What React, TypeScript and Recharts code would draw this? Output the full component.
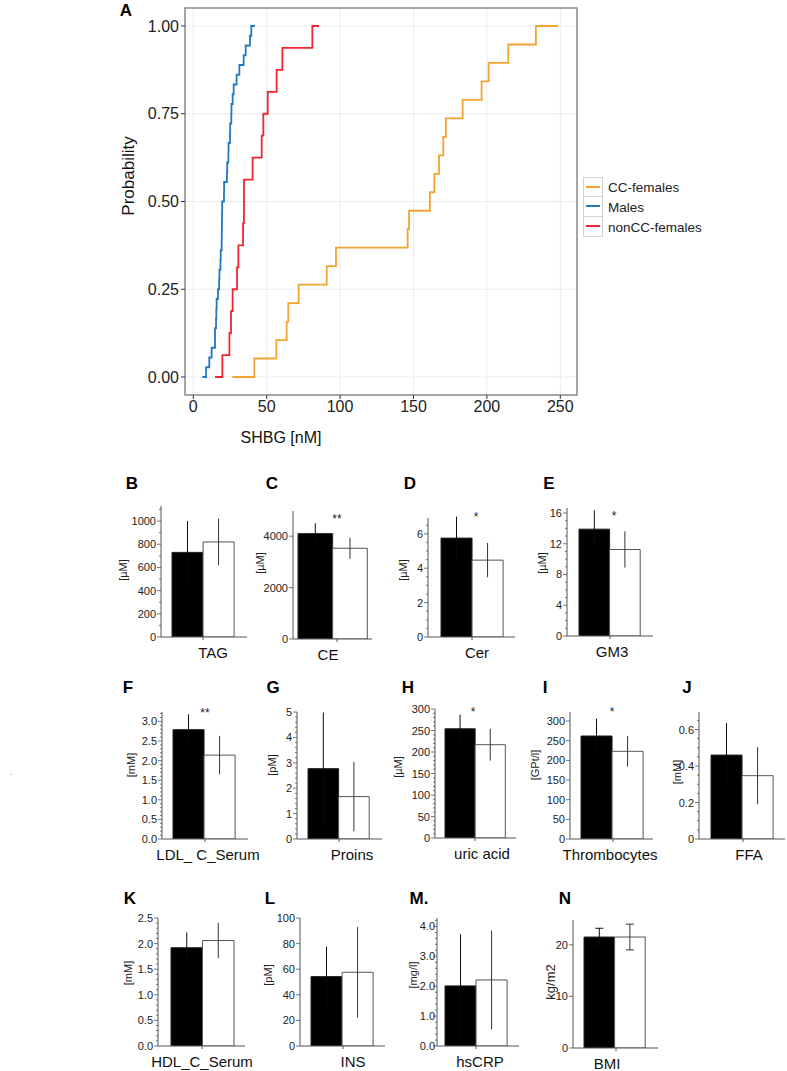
import React from 'react'
import { LineChart, Line, XAxis, YAxis, CartesianGrid, ReferenceArea, BarChart, Bar, ErrorBar } from 'recharts'

const font = '"Liberation Sans", Arial, Helvetica, sans-serif'

// ---- panel A: SHBG per subject, one value per step of each cumulative curve
const groups = ['CC-females', 'Males', 'nonCC-females']
const groupColors = ['#f2a431', '#2179c2', '#f1262c']
const shbgCcFemales = [41.6, 56.6, 63.6, 64.7, 71.8, 90.9, 97.2, 146, 147, 161.2, 164.2, 167.4, 170.3, 172.1, 183.5, 196.4, 201.2, 214.6, 233.4]
const shbgMales = [8.7, 10.9, 12.5, 14.8, 14.8, 15.5, 15.7, 15.9, 16.8, 17.6, 17.8, 18.5, 18.7, 19.3, 19.4, 19.5, 19.6, 19.7, 20.9, 21.0, 22.9, 23.1, 23.9, 24.0, 25.0, 25.1, 25.9, 26.0, 26.8, 27.5, 29.5, 31.4, 34.3, 35.7, 38.6, 39.5]
const shbgNonCcFemales = [19.8, 24.6, 25.7, 26.8, 29.8, 30.7, 33.9, 34.5, 34.5, 40.4, 46.6, 47.7, 50.7, 56.8, 60.7, 81.1]
const curveStart = [26.6, 6.2, 14.8]
const curveEnd = [248.6, 42.0, 85.6]
const shbgTicks = [0, 50, 100, 150, 200, 250]
const probTicks = [0, 0.25, 0.5, 0.75, 1]

// ---- panels B-N: black vs white group, mean and SD
const letters = ['B', 'C', 'D', 'E', 'F', 'G', 'H', 'I', 'J', 'K', 'L', 'M.', 'N']
const measures = ['TAG', 'CE', 'Cer', 'GM3', 'LDL_ C_Serum', 'Proins', 'uric acid', 'Thrombocytes', 'FFA', 'HDL_C_Serum', 'INS', 'hsCRP', 'BMI']
const units = ['[µM]', '[µM]', '[µM]', '[µM]', '[mM]', '[pM]', '[µM]', '[GPt/l]', '[mM]', '[mM]', '[pM]', '[mg/l]', 'kg/m2']
const blackMeans = [730, 4100, 5.75, 13.9, 2.79, 2.77, 254, 262, 0.46, 1.92, 54.2, 2.01, 21.5]
const blackSd = [270, 400, 1.25, 2.45, 0.39, 2.21, 33, 44, 0.176, 0.3, 23.5, 1.73, 1.7]
const whiteMeans = [820, 3530, 4.47, 11.25, 2.14, 1.67, 217, 223, 0.347, 2.06, 57.6, 2.21, 21.5]
const whiteSd = [200, 410, 1.0, 2.35, 0.49, 1.37, 37, 39, 0.156, 0.345, 35.3, 1.65, 2.5]
const signif = ['', '**', '*', '*', '**', '', '*', '*', '', '', '', '', '']
const axisMax = [1130, 4980, 6.92, 16.65, 3.24, 5, 300, 323, 0.696, 2.5, 100, 4.28, 24.8]
const majorTicks = [
  [0, 200, 400, 600, 800, 1000],
  [0, 2000, 4000],
  [0, 2, 4, 6],
  [0, 4, 8, 12, 16],
  [0, 0.5, 1, 1.5, 2, 2.5, 3],
  [0, 1, 2, 3, 4, 5],
  [0, 50, 100, 150, 200, 250, 300],
  [0, 50, 100, 150, 200, 250, 300],
  [0, 0.2, 0.4, 0.6],
  [0, 0.5, 1, 1.5, 2, 2.5],
  [0, 20, 40, 60, 80, 100],
  [0, 1, 2, 3, 4],
  [0, 10, 20],
]
const tickDecimals = [-1, -1, -1, -1, 1, -1, -1, -1, -1, 1, -1, 1, -1]
const minorSteps = [100, 0, 0.5, 1, 0.1, 0.2, 10, 0, 0.05, 0.1, 0, 0.2, 0]

// page positions (px) of each small panel
const layouts = [
  { ax: 161, top: 506, zero: 637, right: 247, barL: 169, mid: 203, barR: 238, lx: 132, ly: 483, ux: 123, uy: 570, cdx: 10, sx: 203, sy: 517, tg: 5 },
  { ax: 293, top: 511, zero: 639, right: 372, barL: 294, mid: 337, barR: 371, lx: 272, ly: 483, ux: 260, uy: 563, cdx: -9, sx: 337, sy: 517, tg: 5 },
  { ax: 428, top: 518, zero: 637, right: 515, barL: 438, mid: 472, barR: 507, lx: 410, ly: 483, ux: 403, uy: 570, cdx: 5, sx: 476, sy: 515, tg: 5 },
  { ax: 567, top: 508, zero: 636, right: 653, barL: 576, mid: 610, barR: 644, lx: 549, ly: 483, ux: 542, uy: 563, cdx: 2, sx: 614, sy: 514, tg: 5 },
  { ax: 162, top: 712, zero: 839, right: 248, barL: 170, mid: 205, barR: 239, lx: 128, ly: 687, ux: 131, uy: 765, cdx: 3, sx: 205, sy: 711, tg: 5 },
  { ax: 297, top: 712, zero: 839, right: 382, barL: 305, mid: 339, barR: 373, lx: 273, ly: 687, ux: 272, uy: 765, cdx: 13, sx: 339, sy: 711, tg: 5 },
  { ax: 435, top: 709, zero: 838, right: 516, barL: 442, mid: 475, barR: 509, lx: 408, ly: 687, ux: 398, uy: 767, cdx: 7, sx: 473, sy: 710, tg: 5 },
  { ax: 570, top: 712, zero: 839, right: 653, barL: 578, mid: 613, barR: 647, lx: 545, ly: 687, ux: 535, uy: 765, cdx: -3, sx: 612, sy: 710, tg: 5 },
  { ax: 699, top: 712, zero: 839, right: 785, barL: 708, mid: 743, barR: 777, lx: 687, ly: 687, ux: 677, uy: 772, cdx: 6, sx: 743, sy: 710, tg: 5 },
  { ax: 158, top: 918, zero: 1046, right: 245, barL: 167, mid: 202, barR: 237, lx: 130, ly: 898, ux: 128, uy: 973, cdx: 0, sx: 202, sy: 915, tg: 5 },
  { ax: 300, top: 918, zero: 1046, right: 385, barL: 308, mid: 343, barR: 377, lx: 270, ly: 898, ux: 268, uy: 975, cdx: 10, sx: 343, sy: 915, tg: 5 },
  { ax: 437, top: 918, zero: 1046, right: 519, barL: 442, mid: 476, barR: 511, lx: 419, ly: 898, ux: 413, uy: 975, cdx: 4, sx: 476, sy: 915, tg: 2 },
  { ax: 573, top: 920, zero: 1048, right: 658, barL: 581, mid: 616, barR: 649, lx: 565, ly: 898, ux: 550, uy: 982, cdx: -9, sx: 616, sy: 915, tg: 5 },
]

function ecdf(values: number[], start: number, end: number) {
  const n = values.length
  const pts = [{ x: start, p: 0 }]
  values.forEach((v, i) => pts.push({ x: v, p: (i + 1) / n }))
  pts.push({ x: end, p: 1 })
  return pts
}

const curves = [
  ecdf(shbgCcFemales, curveStart[0], curveEnd[0]),
  ecdf(shbgMales, curveStart[1], curveEnd[1]),
  ecdf(shbgNonCcFemales, curveStart[2], curveEnd[2]),
]

const X_DOMAIN: [number, number] = [-5.65, 261.4]
const Y_DOMAIN: [number, number] = [-0.0513, 1.0513]

function EcdfPanel() {
  return (
    <div style={{ position: 'absolute', left: 0, top: 0 }}>
      <LineChart width={700} height={460} margin={{ top: 8, right: 123, bottom: 15, left: 125 }}>
        <CartesianGrid stroke="#ebebeb" strokeWidth={1} />
        <XAxis
          type="number"
          dataKey="x"
          domain={X_DOMAIN}
          ticks={shbgTicks}
          allowDataOverflow
          axisLine={false}
          tickSize={4}
          tickMargin={2}
          height={50}
          interval={0}
          tickLine={{ stroke: '#333' }}
          tick={{ fill: '#222', fontSize: 16, fontFamily: font }}
          label={{
            content: () => (
              <text x={281} y={437} textAnchor="middle" dominantBaseline="central" fontSize={16} fill="#111" fontFamily={font}>
                SHBG [nM]
              </text>
            ),
          }}
        />
        <YAxis
          type="number"
          domain={Y_DOMAIN}
          ticks={probTicks}
          allowDataOverflow
          axisLine={false}
          tickSize={4}
          tickMargin={2}
          width={60}
          interval={0}
          tickFormatter={(v: number) => v.toFixed(2)}
          tickLine={{ stroke: '#333' }}
          tick={{ fill: '#222', fontSize: 16, fontFamily: font }}
          label={{
            content: () => (
              <text x={128} y={176} transform="rotate(-90 128 176)" textAnchor="middle" dominantBaseline="central" fontSize={17} fill="#111" fontFamily={font}>
                Probability
              </text>
            ),
          }}
        />
        <ReferenceArea x1={X_DOMAIN[0]} x2={X_DOMAIN[1]} y1={Y_DOMAIN[0]} y2={Y_DOMAIN[1]} fill="none" fillOpacity={0} stroke="#8c8c8c" strokeWidth={1.5} />
        {curves.map((c, k) => (
          <Line
            key={groups[k]}
            data={c}
            dataKey="p"
            name={groups[k]}
            type="stepAfter"
            stroke={groupColors[k]}
            strokeWidth={1.8}
            dot={false}
            activeDot={false}
            isAnimationActive={false}
          />
        ))}
      </LineChart>
      <div style={{ position: 'absolute', left: 583, top: 177, fontFamily: font, fontSize: 13.5, color: '#222', whiteSpace: 'nowrap' }}>
        {groups.map((g, k) => (
          <div key={g} style={{ display: 'flex', alignItems: 'center', height: 20 }}>
            <div style={{ width: 20, height: 20, boxSizing: 'border-box', border: '1px solid #d3d3d3', borderTop: k === 0 ? '1px solid #d3d3d3' : 'none', position: 'relative', flex: 'none' }}>
              <div style={{ position: 'absolute', left: 2, right: 2, top: 8, height: 2, background: groupColors[k] }} />
            </div>
            <span style={{ marginLeft: 5 }}>{g}</span>
          </div>
        ))}
      </div>
    </div>
  )
}

function fmtTick(v: number, dec: number) {
  return dec < 0 ? String(v) : v.toFixed(dec)
}

function BarPanel({ i }: { i: number }) {
  const g = layouts[i]
  const YW = 60
  const MT = 12
  const XH = 30
  const MR = 50
  const plotW = g.right - g.ax
  const plotH = g.zero - g.top
  const width = YW + plotW + MR
  const height = MT + plotH + XH
  const blackW = g.mid - g.barL
  const whiteW = g.barR - g.mid
  const majors = majorTicks[i]
  const allTicks = [...majors]
  const step = minorSteps[i]
  if (step) {
    for (let k = 1; k * step < axisMax[i]; k++) {
      const v = Math.round(k * step * 1000) / 1000
      if (!majors.some((m) => Math.abs(m - v) < 1e-9)) allTicks.push(v)
    }
  }
  allTicks.sort((a, b) => a - b)
  const row = [{ name: measures[i], black: blackMeans[i], white: whiteMeans[i], blackErr: blackSd[i], whiteErr: whiteSd[i] }]
  const cx = g.ux - (g.ax - YW)
  const cy = g.uy - (g.top - MT)

  const yTick = (p: any) => {
    const v = p.payload.value
    const major = majors.some((m) => Math.abs(m - v) < 1e-9)
    return (
      <g>
        <line x1={p.x - (major ? 4 : 2)} x2={p.x} y1={p.y} y2={p.y} stroke="#555" strokeWidth={0.8} />
        {major && (
          <text x={p.x - g.tg} y={p.y} textAnchor="end" dominantBaseline="central" fontSize={11} fill="#222" fontFamily={font}>
            {fmtTick(v, tickDecimals[i])}
          </text>
        )}
      </g>
    )
  }
  const xTick = (p: any) => {
    const jx = p.x - (blackW + whiteW) / 2 + blackW
    return (
      <g>
        <line x1={jx} x2={jx} y1={p.y} y2={p.y + 3} stroke="#555" />
        <text x={jx + g.cdx} y={p.y + 15.5} textAnchor="middle" dominantBaseline="central" fontSize={15} fill="#111" fontFamily={font}>
          {p.payload.value}
        </text>
      </g>
    )
  }

  return (
    <div style={{ position: 'absolute', left: g.ax - YW, top: g.top - MT }}>
      <BarChart width={width} height={height} data={row} barGap={0} barCategoryGap={0} margin={{ top: MT, right: MR, left: 0, bottom: 0 }}>
        <XAxis
          dataKey="name"
          type="category"
          padding={{ left: g.barL - g.ax, right: g.right - g.barR }}
          height={XH}
          tickSize={0}
          tickMargin={0}
          tickLine={false}
          interval={0}
          axisLine={{ stroke: '#555' }}
          tick={xTick}
        />
        <YAxis
          type="number"
          domain={[0, axisMax[i]]}
          ticks={allTicks}
          allowDataOverflow
          width={YW}
          tickSize={0}
          tickMargin={0}
          tickLine={false}
          interval={0}
          axisLine={{ stroke: '#555' }}
          tick={yTick}
          label={{
            content: () => (
              <text x={cx} y={cy} transform={`rotate(-90 ${cx} ${cy})`} textAnchor="middle" dominantBaseline="central" fontSize={i === 12 ? 13 : 11} fill="#222" fontFamily={font}>
                {units[i]}
              </text>
            ),
          }}
        />
        <Bar dataKey="black" fill="#000" stroke="#222" strokeWidth={1} barSize={blackW} isAnimationActive={false}>
          <ErrorBar dataKey="blackErr" width={i === 12 ? 4 : 0} stroke="#0a0a0a" strokeWidth={1} direction="y" isAnimationActive={false} />
        </Bar>
        <Bar dataKey="white" fill="#fff" stroke="#555" strokeWidth={1} barSize={whiteW} isAnimationActive={false}>
          <ErrorBar dataKey="whiteErr" width={i === 12 ? 4 : 0} stroke="#333" strokeWidth={1} direction="y" isAnimationActive={false} />
        </Bar>
      </BarChart>
    </div>
  )
}

export default function App() {
  return (
    <div style={{ position: 'absolute', left: 0, top: 0, width: 787, height: 1071, background: '#fff', fontFamily: font, overflow: 'hidden' }}>
      <EcdfPanel />
      {layouts.map((_, i) => (
        <BarPanel key={letters[i]} i={i} />
      ))}
      <svg width={787} height={1071} style={{ position: 'absolute', left: 0, top: 0, pointerEvents: 'none' }}>
        <text x={126} y={10} textAnchor="middle" dominantBaseline="central" fontSize={17} fontWeight="bold" fill="#000" fontFamily={font}>
          A
        </text>
        {layouts.map((g, i) => (
          <g key={letters[i]}>
            <text x={g.lx} y={g.ly} textAnchor="middle" dominantBaseline="central" fontSize={17} fontWeight="bold" fill="#000" fontFamily={font}>
              {letters[i]}
            </text>
            {signif[i] && (
              <text x={g.sx} y={g.sy + 6} textAnchor="middle" fontSize={12} fill="#222" fontFamily={font}>
                {signif[i]}
              </text>
            )}
          </g>
        ))}
        <text x={10} y={775} fontSize={10} fill="#888" fontFamily={font}>.</text>
      </svg>
    </div>
  )
}
